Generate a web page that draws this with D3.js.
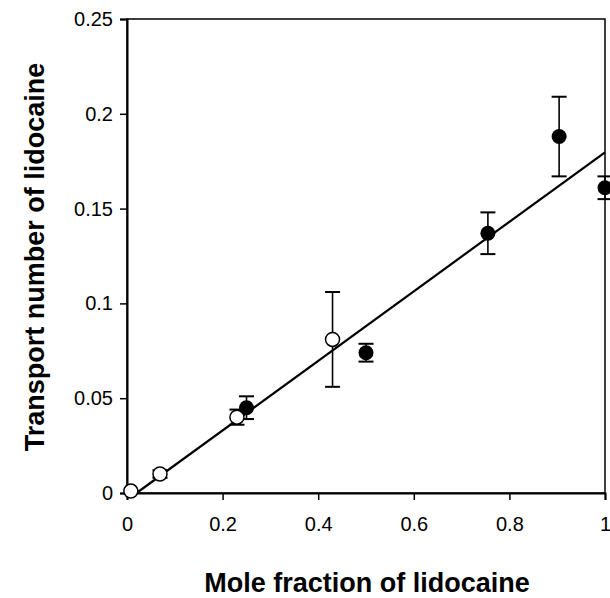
<!DOCTYPE html>
<html><head><meta charset="utf-8">
<script src="https://cdn.jsdelivr.net/npm/d3@7"></script>
<style>body{margin:0;background:#fff}</style>
</head><body>
<svg id="c" width="610" height="598"></svg>
<script>
// Data
const openX = [0.008, 0.069, 0.23, 0.43];
const openY = [0.001, 0.010, 0.040, 0.081];
const openErr = [0.0, 0.002, 0.004, 0.025];
const filledX = [0.25, 0.50, 0.755, 0.904, 1.0];
const filledY = [0.045, 0.074, 0.137, 0.188, 0.161];
const filledErr = [0.006, 0.0047, 0.011, 0.021, 0.006];
const lineX = [0.02, 1.0];
const lineY = [0.0, 0.1797];
const xTicks = [0, 0.2, 0.4, 0.6, 0.8, 1];
const yTicks = [0, 0.05, 0.1, 0.15, 0.2, 0.25];

const svg = d3.select("#c");
const x = d3.scaleLinear().domain([0, 1]).range([127, 605]);
const y = d3.scaleLinear().domain([0, 0.25]).range([493, 19]);
const font = "'Liberation Sans', Arial, sans-serif";

// frame
svg.append("rect").attr("x", x(0)).attr("y", y(0.25))
  .attr("width", x(1) - x(0)).attr("height", y(0) - y(0.25))
  .attr("fill", "none").attr("stroke", "#000").attr("stroke-width", 1.5);

const fmt = d => d === 0 ? "0" : String(d);
const xAxis = svg.append("g").attr("transform", `translate(0,${y(0)})`)
  .call(d3.axisBottom(x).tickValues(xTicks).tickFormat(fmt).tickSize(7).tickPadding(17));
const yAxis = svg.append("g").attr("transform", `translate(${x(0)},0)`)
  .call(d3.axisLeft(y).tickValues(yTicks).tickFormat(fmt).tickSize(7).tickPadding(7));
[xAxis, yAxis].forEach(g => {
  g.select(".domain").attr("stroke-width", 2);
  g.selectAll(".tick line").attr("stroke-width", 1.5);
  g.selectAll("text").attr("font-family", font).attr("font-size", 20).attr("fill", "#000");
});

// fit line
svg.append("line").attr("x1", x(lineX[0])).attr("y1", y(lineY[0]))
  .attr("x2", x(lineX[1])).attr("y2", y(lineY[1]))
  .attr("stroke", "#000").attr("stroke-width", 2.2);

function errBars(xs, ys, es) {
  const g = svg.append("g").attr("stroke", "#000").attr("stroke-width", 1.6);
  xs.forEach((xv, i) => {
    if (es[i] <= 0) return;
    const cx = x(xv), t = y(ys[i] + es[i]), b = y(ys[i] - es[i]);
    g.append("line").attr("x1", cx).attr("x2", cx).attr("y1", t).attr("y2", b);
    g.append("line").attr("x1", cx - 7.5).attr("x2", cx + 7.5).attr("y1", t).attr("y2", t).attr("stroke-width", 2);
    g.append("line").attr("x1", cx - 7.5).attr("x2", cx + 7.5).attr("y1", b).attr("y2", b).attr("stroke-width", 2);
  });
}
errBars(openX, openY, openErr);
errBars(filledX, filledY, filledErr);

svg.append("g").selectAll("circle").data(openX).join("circle")
  .attr("cx", (d) => x(d)).attr("cy", (d, i) => y(openY[i])).attr("r", 7)
  .attr("fill", "#fff").attr("stroke", "#000").attr("stroke-width", 1.5);
svg.append("g").selectAll("circle").data(filledX).join("circle")
  .attr("cx", (d) => x(d)).attr("cy", (d, i) => y(filledY[i])).attr("r", 7.5)
  .attr("fill", "#000");

// titles
svg.append("text").attr("x", 367).attr("y", 592).attr("text-anchor", "middle")
  .attr("font-family", font).attr("font-weight", "bold").attr("font-size", 27)
  .text("Mole fraction of lidocaine");
svg.append("text").attr("transform", "translate(44,257) rotate(-90)").attr("text-anchor", "middle")
  .attr("font-family", font).attr("font-weight", "bold").attr("font-size", 27)
  .text("Transport number of lidocaine");
</script>
</body></html>
